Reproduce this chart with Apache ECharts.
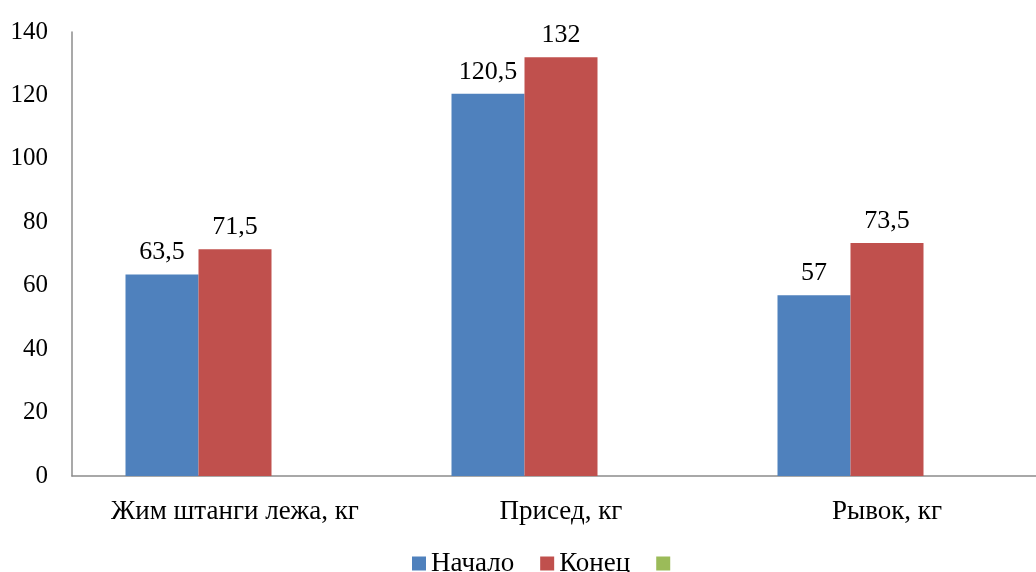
<!DOCTYPE html>
<html><head><meta charset="utf-8">
<script src="https://cdn.jsdelivr.net/npm/echarts@6/dist/echarts.min.js"></script>
<style>html,body{margin:0;padding:0;background:#fff;overflow:hidden}#c{width:1050px;height:572px}</style>
</head><body><div id="c"></div>
<script>
var categories = ['Жим штанги лежа, кг', 'Присед, кг', 'Рывок, кг'];
var startValues = [63.5, 120.5, 57];
var endValues = [71.5, 132, 73.5];
var thirdValues = [null, null, null];
var seriesNames = ['Начало', 'Конец', ' '];
var yTicks = [0, 20, 40, 60, 80, 100, 120, 140];

var font = '"Liberation Serif", "Times New Roman", serif';
var chart = echarts.init(document.getElementById('c'), null, {renderer: 'canvas'});
function fmt(p){ return String(p.value).replace('.', ','); }
var lbl = {show: true, position: 'top', distance: 9, color: '#000', fontFamily: font, fontSize: 26, formatter: fmt};
chart.setOption({
  animation: false,
  textStyle: {fontFamily: font},
  grid: {left: 72, right: 0, top: 32, bottom: 96, containLabel: false},
  legend: {
    data: seriesNames, top: 545, left: 407, itemWidth: 14, itemHeight: 14, itemGap: 26,
    icon: 'rect', textStyle: {fontFamily: font, fontSize: 27, color: '#000'}
  },
  xAxis: {
    type: 'category', data: categories,
    axisLine: {lineStyle: {color: '#8c8c8c', width: 1.5}},
    axisTick: {show: false},
    axisLabel: {color: '#000', fontFamily: font, fontSize: 27, margin: 22}
  },
  yAxis: {
    type: 'value', min: yTicks[0], max: yTicks[yTicks.length - 1], interval: 20,
    axisLine: {show: true, lineStyle: {color: '#8c8c8c', width: 1.5}},
    axisTick: {show: false},
    splitLine: {show: false},
    axisLabel: {color: '#000', fontFamily: font, fontSize: 25, margin: 24}
  },
  series: [
    {name: seriesNames[0], type: 'bar', data: startValues, barWidth: 73, barGap: '0%', itemStyle: {color: '#4F81BD'}, label: lbl},
    {name: seriesNames[1], type: 'bar', data: endValues, barWidth: 73, barGap: '0%', itemStyle: {color: '#C0504D'}, label: lbl},
    {name: seriesNames[2], type: 'bar', data: thirdValues, barWidth: 73, barGap: '0%', itemStyle: {color: '#9BBB59'}, label: lbl}
  ]
});
</script></body></html>
